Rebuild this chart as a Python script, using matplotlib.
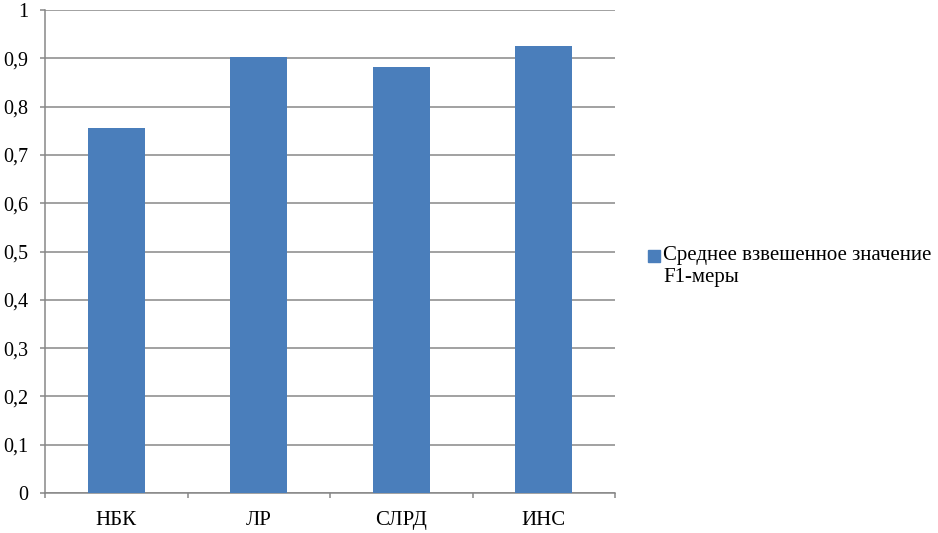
import numpy as np
import matplotlib
matplotlib.use("Agg")
import matplotlib.pyplot as plt
from matplotlib.patches import Rectangle
from matplotlib.ticker import FixedLocator, NullFormatter

# data
categories = ["НБК", "ЛР", "СЛРД", "ИНС"]
f1_values = [0.755, 0.902, 0.883, 0.925]
y_ticks = [0, 0.1, 0.2, 0.3, 0.4, 0.5, 0.6, 0.7, 0.8, 0.9, 1]
y_labels = ["0", "0,1", "0,2", "0,3", "0,4", "0,5", "0,6", "0,7", "0,8", "0,9", "1"]
series_name = "Среднее взвешенное значение\nF1-меры"

plt.rcParams["font.family"] = ["Liberation Serif", "DejaVu Serif"]

W, H = 938, 533
fig = plt.figure(figsize=(W / 100, H / 100), dpi=100)
ax = fig.add_axes([45 / W, 1 - 493 / H, 570 / W, 483 / H])

grid_col = "#878787"
bar_col = "#4a7ebb"

x = np.arange(len(categories))
bars = ax.bar(x, f1_values, width=0.4, color=bar_col, zorder=3)

ax.set_xlim(-0.5, len(categories) - 0.5)
ax.set_ylim(0, 1)
ax.set_yticks(y_ticks)
ax.set_yticklabels(y_labels, fontsize=14.5)
ax.yaxis.grid(True, color=grid_col, linewidth=1.1, zorder=0)

# category names in the middle, tick marks on the borders
ax.set_xticks(x)
ax.set_xticklabels(categories, fontsize=15)
ax.tick_params(axis="x", which="major", length=0, pad=13)
ax.xaxis.set_minor_locator(FixedLocator(np.arange(-0.5, len(categories), 1.0)))
ax.xaxis.set_minor_formatter(NullFormatter())
ax.tick_params(axis="x", which="minor", length=3.6, color=grid_col, width=1.1)
ax.tick_params(axis="y", length=3.6, color=grid_col, width=1.1, pad=8.5)

for s in ["top", "right"]:
    ax.spines[s].set_visible(False)
for s in ["left", "bottom"]:
    ax.spines[s].set_color(grid_col)
    ax.spines[s].set_linewidth(1.1)

# legend like excel: square next to the first line of the name
fig.patches.append(Rectangle((648 / W, 1 - 262 / H), 12 / W, 12 / H,
                             transform=fig.transFigure, color=bar_col, figure=fig))
fig.text(663 / W, 1 - 246 / H, series_name, fontsize=15, va="top", ha="left",
         linespacing=1.2)

fig.savefig("out.png", dpi=100)
